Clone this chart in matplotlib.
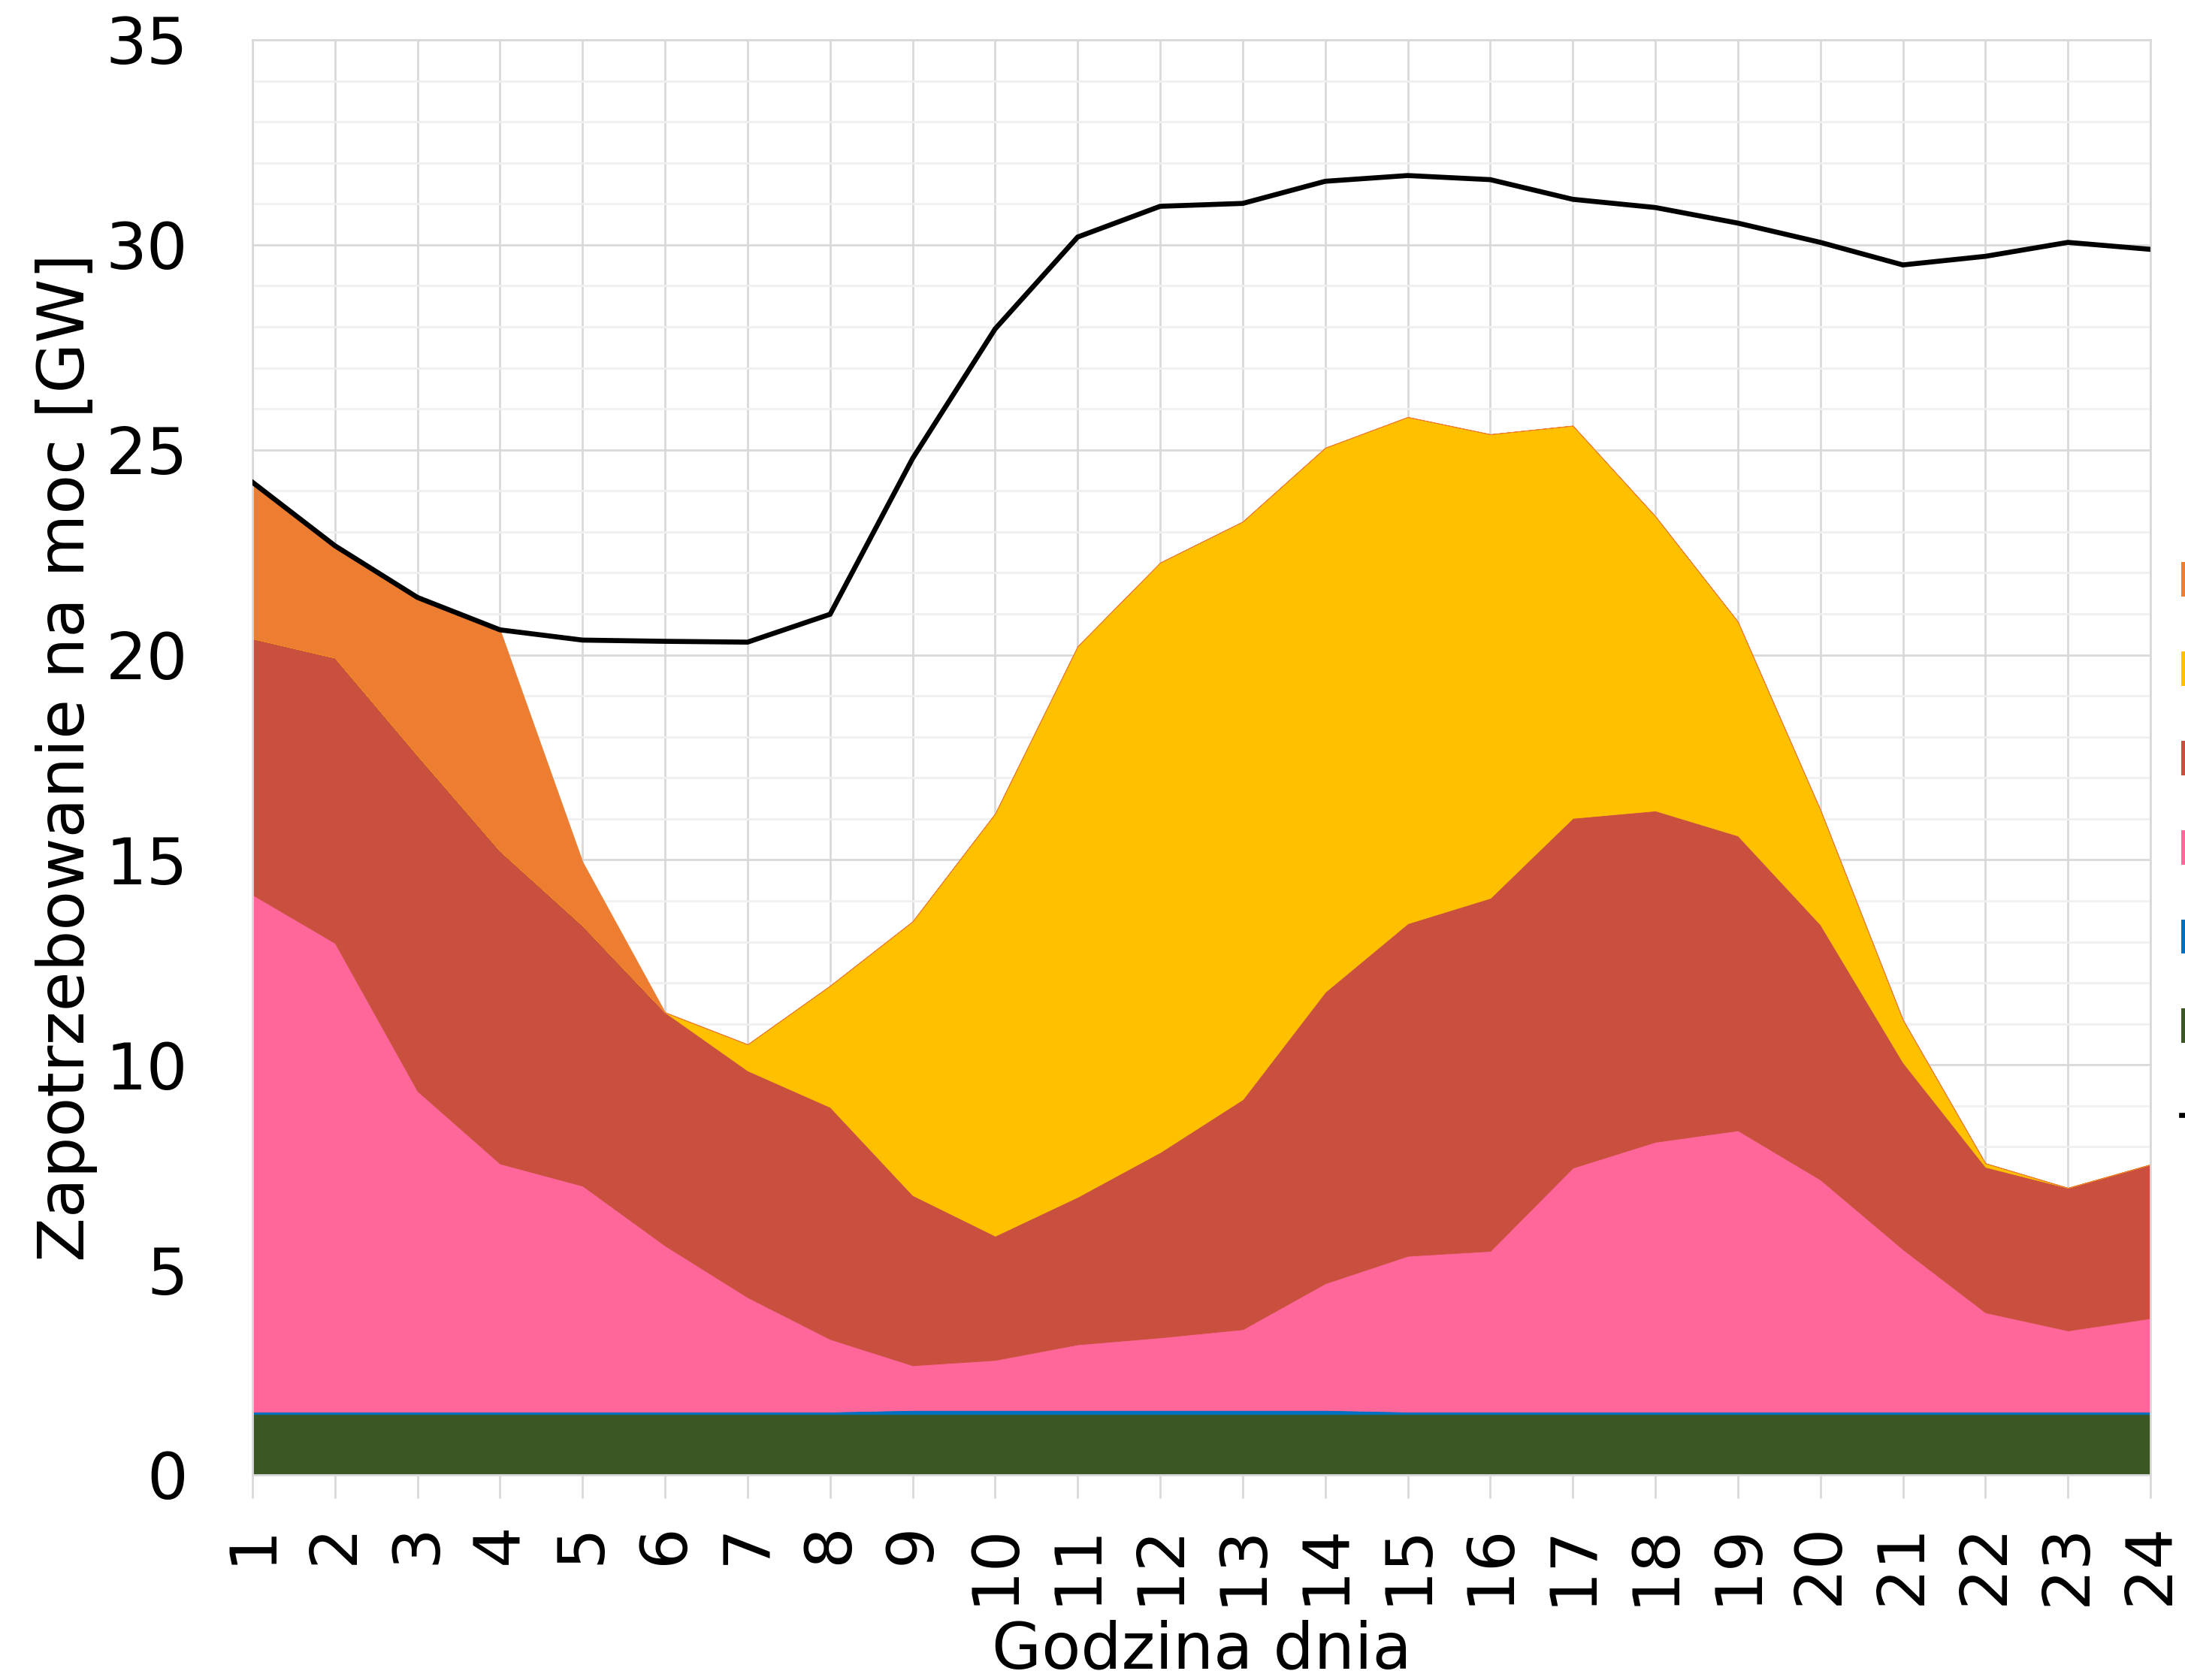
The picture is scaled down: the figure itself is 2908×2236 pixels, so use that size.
import matplotlib
matplotlib.use("Agg")
import matplotlib.pyplot as plt
import numpy as np
from matplotlib.patches import Patch
from matplotlib.lines import Line2D

hours = list(range(1, 25))
hour_labels = [str(h) for h in hours]

# series values [GW], stacked bottom -> top
green_vals = [1.48, 1.48, 1.48, 1.48, 1.48, 1.48, 1.48, 1.48, 1.48, 1.48, 1.48, 1.48,
              1.48, 1.48, 1.48, 1.48, 1.48, 1.48, 1.48, 1.48, 1.48, 1.48, 1.48, 1.48]
blue_vals = [0.06, 0.06, 0.06, 0.06, 0.06, 0.06, 0.06, 0.06, 0.10, 0.10, 0.10, 0.10,
             0.10, 0.10, 0.06, 0.06, 0.06, 0.06, 0.06, 0.06, 0.06, 0.06, 0.06, 0.06]
pink_vals = [12.61, 11.43, 7.82, 6.05, 5.51, 4.05, 2.79, 1.77, 1.09, 1.22, 1.60, 1.77,
             1.97, 3.09, 3.80, 3.92, 5.95, 6.58, 6.86, 5.66, 3.96, 2.42, 1.98, 2.28]
red_vals = [6.25, 6.96, 8.19, 7.63, 6.35, 5.69, 5.53, 5.66, 4.15, 3.03, 3.60, 4.52,
            5.61, 7.11, 8.11, 8.61, 8.53, 8.08, 7.19, 6.22, 4.56, 3.55, 3.48, 3.75]
yellow_vals = [0.0, 0.0, 0.0, 0.0, 0.0, 0.0, 0.64, 2.96, 6.68, 10.30, 13.43, 14.38,
               14.09, 13.27, 12.35, 11.31, 9.57, 7.18, 5.22, 2.80, 1.04, 0.09, 0.0, 0.0]
orange_vals = [3.81, 2.75, 3.87, 5.39, 1.55, 0.0, 0.0, 0.0, 0.0, 0.0, 0.0, 0.0,
               0.0, 0.0, 0.0, 0.0, 0.0, 0.0, 0.0, 0.0, 0.0, 0.0, 0.0, 0.0]
demand = [24.21, 22.66, 21.40, 20.61, 20.36, 20.33, 20.31, 20.99, 24.79, 27.95, 30.19, 30.94,
          31.01, 31.55, 31.69, 31.59, 31.11, 30.91, 30.53, 30.06, 29.51, 29.72, 30.06, 29.89]

series_names = ["Import", "Fotowoltaika", "Wiatr na lądzie", "Wiatr na morzu",
                "Elektrownie wodne", "Elektrownia jądrowa"]
demand_name = "Zapotrzebowanie"

c_green = "#3B5724"
c_blue = "#0070C0"
c_pink = "#FF6699"
c_red = "#C9503F"
c_yellow = "#FFC000"
c_orange = "#ED7D31"

plt.rcParams['font.family'] = ['DejaVu Sans']

fig = plt.figure(figsize=(29.08, 22.36), dpi=100)
ax = fig.add_axes([336/2908, 1 - 1963/2236, (2862-336)/2908, (1963-53)/2236])

layers = [(green_vals, c_green), (blue_vals, c_blue), (pink_vals, c_pink),
          (red_vals, c_red), (yellow_vals, c_yellow), (orange_vals, c_orange)]
bottom = np.zeros(len(hours))
x = np.array(hours, dtype=float)
for vals, col in layers:
    top = bottom + np.array(vals)
    ax.fill_between(x, bottom, top, facecolor=col, edgecolor=col, linewidth=0.6, zorder=2)
    bottom = top

ax.plot(x, demand, color="black", linewidth=4.8, zorder=4, solid_joinstyle='miter')

ax.set_xlim(1, 24)
ax.set_ylim(0, 35)
ax.set_xticks(hours)
ax.set_xticklabels(hour_labels, rotation=90)
ax.set_yticks([0, 5, 10, 15, 20, 25, 30, 35])
ax.set_yticks(np.arange(0, 36, 1), minor=True)
ax.set_axisbelow(True)
ax.grid(which='major', axis='both', color='#d9d9d9', linewidth=2.0, zorder=0)
ax.grid(which='minor', axis='y', color='#f0f0f0', linewidth=2.0, zorder=0)
ax.tick_params(axis='x', which='major', length=22, width=2.0, color='#d9d9d9',
               labelsize=62, pad=24)
ax.tick_params(axis='y', which='both', length=0, labelsize=62, pad=62)
ax.tick_params(axis='x', which='minor', length=0)
for s in ax.spines.values():
    s.set_color('#d9d9d9')
    s.set_linewidth(2.0)

ax.set_xlabel("Godzina dnia", fontsize=61.5)
ax.set_ylabel("Zapotrzebowanie na moc [GW]", fontsize=62)
ax.xaxis.set_label_coords(0.5, -0.101)
ax.yaxis.set_label_coords(-0.0816, 0.5)

handles = [Patch(facecolor=c, edgecolor='none') for c in
           [c_orange, c_yellow, c_red, c_pink, c_blue, c_green]]
handles.append(Line2D([0], [0], color='black', linewidth=4.8))
fig.legend(handles, series_names + [demand_name], loc='upper left',
           bbox_to_anchor=(2903/2908, 1 - 744/2236), frameon=False,
           fontsize=47, borderpad=0, borderaxespad=0, labelspacing=0.84,
           handlelength=2.0, handleheight=0.7, handletextpad=0.5)

fig.savefig("out.png", dpi=100)
